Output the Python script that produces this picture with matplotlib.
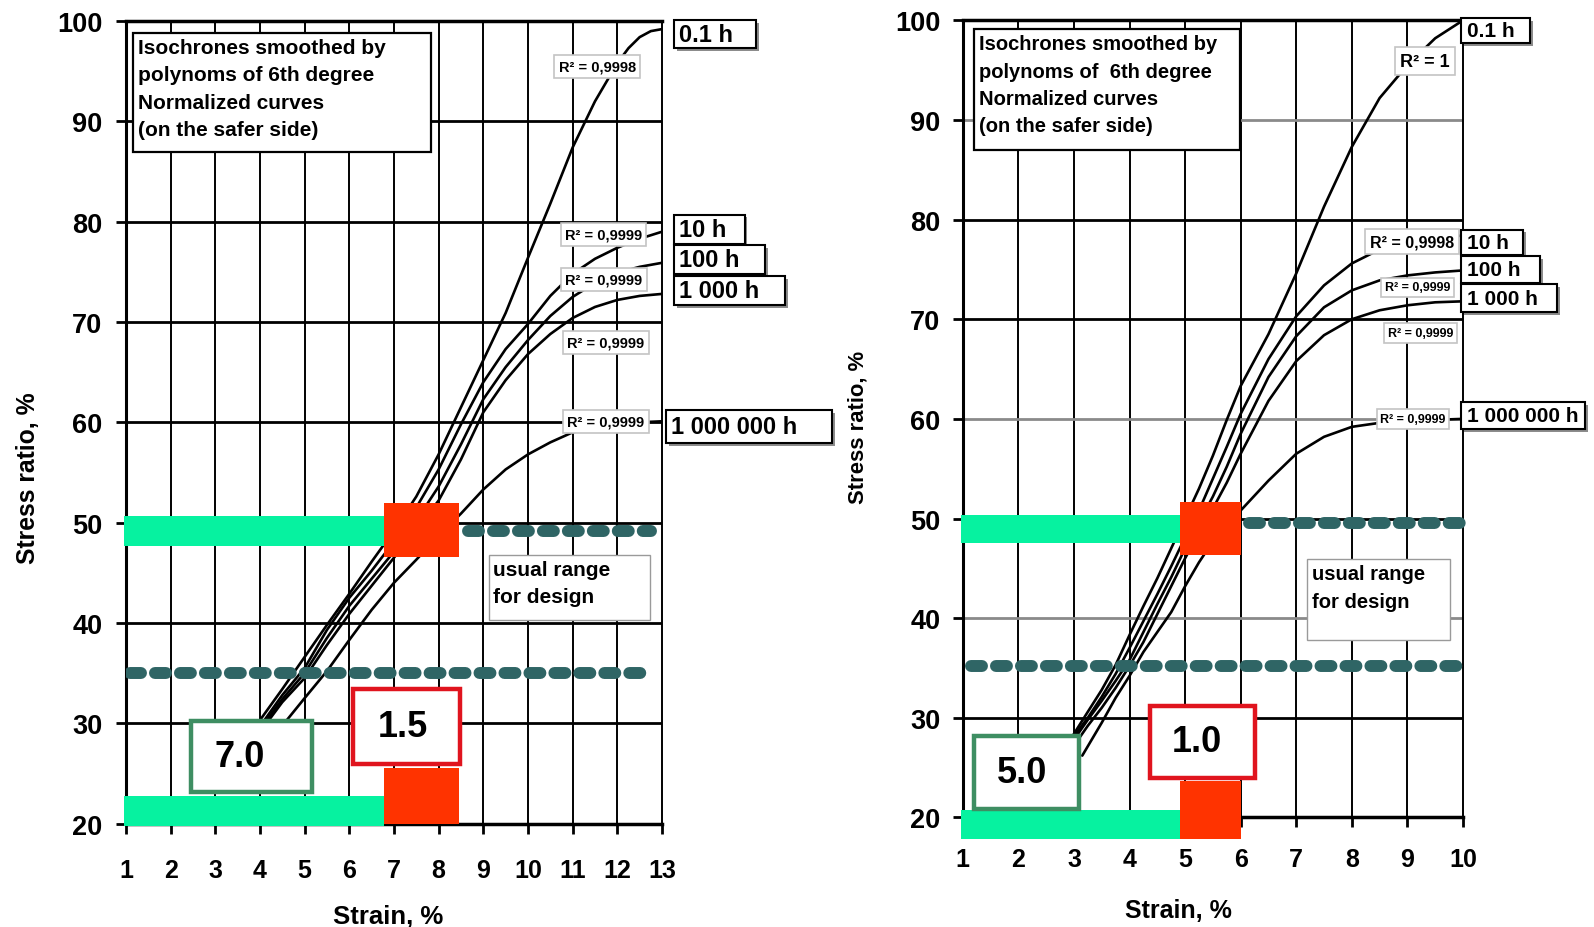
import numpy as np
import matplotlib.pyplot as plt
from matplotlib.patches import Rectangle
from matplotlib.transforms import offset_copy

plt.rcParams['font.family'] = ['Liberation Sans', 'DejaVu Sans']
plt.rcParams['font.weight'] = 'bold'

# isochrone names
time_labels = ['0.1 h', '10 h', '100 h', '1 000 h', '1 000 000 h']

# ---- left chart: strain 1..13 % ----
left_x_01h = [4.0, 4.5, 5.0, 5.5, 6.0, 6.5, 7.0, 7.5, 8.0, 8.5, 9.0, 9.5, 10.0, 10.5, 11.0, 11.5, 12.0, 12.25, 12.5, 12.75, 13.0]
left_y_01h = [30.3, 33.4, 36.6, 39.8, 42.9, 46.1, 49.2, 52.6, 56.8, 61.5, 66.2, 70.9, 76.4, 81.8, 87.4, 92.0, 95.8, 97.3, 98.4, 99.0, 99.2]
left_x_10h = [4.1, 4.5, 5.0, 5.5, 6.0, 6.5, 7.0, 7.5, 8.0, 8.5, 9.0, 9.5, 10.0, 10.5, 11.0, 11.5, 12.0, 12.5, 13.0]
left_y_10h = [30.3, 32.8, 35.5, 39.3, 42.5, 45.2, 48.1, 51.5, 55.3, 59.8, 64.0, 67.3, 69.8, 72.6, 74.8, 76.3, 77.4, 78.3, 79.0]
left_x_100h = [4.15, 4.5, 5.0, 5.5, 6.0, 6.5, 7.0, 7.5, 8.0, 8.5, 9.0, 9.5, 10.0, 10.5, 11.0, 11.5, 12.0, 12.5, 13.0]
left_y_100h = [30.3, 32.4, 35.0, 38.5, 41.7, 44.4, 47.1, 50.2, 53.6, 57.8, 62.3, 65.5, 68.2, 70.6, 72.5, 73.9, 74.9, 75.5, 75.9]
left_x_1000h = [4.2, 4.5, 5.0, 5.5, 6.0, 6.5, 7.0, 7.5, 8.0, 8.5, 9.0, 9.5, 10.0, 10.5, 11.0, 11.5, 12.0, 12.5, 13.0]
left_y_1000h = [30.3, 32.1, 34.5, 37.8, 40.9, 43.7, 46.5, 49.3, 52.2, 56.3, 61.0, 64.2, 66.8, 68.8, 70.4, 71.5, 72.2, 72.6, 72.8]
left_x_1e6h = [4.6, 5.0, 5.5, 6.0, 6.5, 7.0, 7.5, 8.0, 8.5, 9.0, 9.5, 10.0, 10.5, 11.0, 11.5, 12.0, 12.5, 13.0]
left_y_1e6h = [30.3, 32.5, 35.2, 38.3, 41.3, 44.0, 46.3, 48.7, 50.9, 53.3, 55.3, 56.8, 58.0, 59.0, 59.5, 59.8, 60.0, 60.1]
left_r2 = ['R² = 0,9998', 'R² = 0,9999', 'R² = 0,9999', 'R² = 0,9999', 'R² = 0,9999']
left_factors = ['7.0', '1.5']

# ---- right chart: strain 1..10 % ----
right_x_01h = [2.9, 3.25, 3.5, 3.75, 4.0, 4.25, 4.5, 4.75, 5.0, 5.25, 5.5, 5.75, 6.0, 6.5, 7.0, 7.5, 8.0, 8.5, 9.0, 9.5, 10.0]
right_y_01h = [27.5, 30.6, 32.8, 35.3, 38.3, 41.2, 44.0, 47.0, 50.0, 53.0, 56.3, 59.9, 63.3, 68.5, 74.6, 81.3, 87.3, 92.2, 95.5, 98.2, 100.0]
right_x_10h = [2.95, 3.25, 3.5, 3.75, 4.0, 4.25, 4.5, 4.75, 5.0, 5.25, 5.5, 5.75, 6.0, 6.5, 7.0, 7.5, 8.0, 8.5, 9.0, 9.5, 10.0]
right_y_10h = [27.8, 30.0, 32.1, 34.4, 37.0, 39.7, 42.4, 45.2, 48.1, 50.8, 54.0, 57.2, 60.5, 66.0, 70.3, 73.4, 75.6, 77.0, 77.8, 78.2, 78.4]
right_x_100h = [3.0, 3.25, 3.5, 3.75, 4.0, 4.25, 4.5, 4.75, 5.0, 5.25, 5.5, 5.75, 6.0, 6.5, 7.0, 7.5, 8.0, 8.5, 9.0, 9.5, 10.0]
right_y_100h = [27.8, 29.8, 31.7, 33.7, 35.8, 38.6, 41.4, 44.1, 47.0, 49.6, 52.2, 55.2, 58.5, 64.2, 68.3, 71.2, 72.9, 73.9, 74.4, 74.7, 74.9]
right_x_1000h = [3.05, 3.25, 3.5, 3.75, 4.0, 4.25, 4.5, 4.75, 5.0, 5.25, 5.5, 5.75, 6.0, 6.5, 7.0, 7.5, 8.0, 8.5, 9.0, 9.5, 10.0]
right_y_1000h = [27.6, 29.2, 31.0, 33.0, 35.2, 37.6, 40.4, 43.2, 46.0, 48.6, 51.0, 53.6, 56.5, 61.8, 65.8, 68.4, 70.0, 70.9, 71.4, 71.7, 71.8]
right_x_1e6h = [3.15, 3.5, 3.75, 4.0, 4.25, 4.5, 4.75, 5.0, 5.25, 5.5, 5.75, 6.0, 6.5, 7.0, 7.5, 8.0, 8.5, 9.0, 9.5, 10.0]
right_y_1e6h = [26.2, 29.5, 32.0, 34.2, 36.6, 38.6, 40.6, 43.2, 45.6, 47.7, 49.4, 50.8, 53.8, 56.5, 58.2, 59.2, 59.6, 59.8, 59.9, 60.0]
right_r2 = ['R² = 1', 'R² = 0,9998', 'R² = 0,9999', 'R² = 0,9999', 'R² = 0,9999']
right_factors = ['5.0', '1.0']

# design stress levels (%)
design_levels = [35, 49.3]

GREEN = '#06f2a0'
RED = '#ff3300'
TEAL = '#2f6565'
DOTS = (0, (0.92, 1.17))

fig = plt.figure(figsize=(15.94, 9.28), dpi=100)
axL = fig.add_axes([0.0790, 0.1115, 0.3363, 0.8647])
axR = fig.add_axes([0.6040, 0.1181, 0.3138, 0.8589])


def setup(ax, xmax, xpad, ypad, gray_rows=()):
    ax.set_xlim(1, xmax)
    ax.set_ylim(20, 100)
    ax.set_xticks(range(1, xmax + 1))
    ax.set_yticks(range(20, 101, 10))
    ax.tick_params(axis='x', direction='out', length=7, width=2, pad=xpad, labelsize=18)
    ax.tick_params(axis='y', direction='out', length=7, width=2, pad=ypad, labelsize=19.5)
    for lab in ax.get_xticklabels() + ax.get_yticklabels():
        lab.set_fontweight('bold')
    ax.spines['left'].set_linewidth(2.2)
    ax.spines['bottom'].set_linewidth(2.5)
    ax.spines['top'].set_linewidth(2.5)
    ax.spines['right'].set_linewidth(1.4)
    for xv in range(2, xmax):
        ax.axvline(xv, color='black', lw=1.4, zorder=0.5)
    for yv in range(30, 100, 10):
        c = '#8a8a8a' if yv in gray_rows else 'black'
        ax.axhline(yv, color=c, lw=2.0, zorder=0.5)


def box_text(ax, x0, x1, y0, y1, lines, fs, ec='black', lw=1.6, zorder=6):
    ax.add_patch(Rectangle((x0, y0), x1 - x0, y1 - y0, fc='white', ec=ec, lw=lw,
                           zorder=zorder, clip_on=False))
    ax.text(x0 + 0.1, y1 - 0.5, lines, ha='left', va='top', fontsize=fs,
            fontweight='bold', linespacing=1.55, zorder=zorder + 1, clip_on=False)


def label_box(ax, x0, x1, y0, y1, text, fs):
    sh = offset_copy(ax.transData, fig=fig, x=2, y=-2, units='points')
    ax.add_patch(Rectangle((x0, y0), x1 - x0, y1 - y0, fc='#8c8c8c', ec='none',
                           transform=sh, zorder=6, clip_on=False))
    ax.add_patch(Rectangle((x0, y0), x1 - x0, y1 - y0, fc='white', ec='black', lw=1.5,
                           zorder=7, clip_on=False))
    ax.text(x0 + 0.1, (y0 + y1) / 2, text, ha='left', va='center', fontsize=fs,
            fontweight='bold', zorder=8, clip_on=False)


def factor_box(ax, x0, x1, y0, y1, text, ec, tx):
    ax.add_patch(Rectangle((x0, y0), x1 - x0, y1 - y0, fc='white', ec=ec, lw=3.2,
                           zorder=6, clip_on=False))
    ax.text(tx, (y0 + y1) / 2, text, ha='center', va='center', fontsize=26,
            fontweight='bold', zorder=7)


# ---------------- left panel ----------------
setup(axL, 13, xpad=18, ypad=10)
lx = [left_x_01h, left_x_10h, left_x_100h, left_x_1000h, left_x_1e6h]
ly = [left_y_01h, left_y_10h, left_y_100h, left_y_1000h, left_y_1e6h]
for xs, ys in zip(lx, ly):
    axL.plot(xs, ys, color='black', lw=1.9, zorder=2, solid_capstyle='round')

# bands and design markers
axL.barh(49.2, 6.77 - 0.95, left=0.95, height=3.0, color=GREEN, zorder=4, clip_on=False)
axL.barh(49.3, 8.45 - 6.77, left=6.77, height=5.4, color=RED, zorder=4)
axL.barh(21.25, 6.77 - 0.95, left=0.95, height=2.9, color=GREEN, zorder=4, clip_on=False)
axL.barh(22.75, 8.45 - 6.77, left=6.77, height=5.5, color=RED, zorder=4)
axL.plot([1.1, 12.75], [design_levels[0]] * 2, color=TEAL, lw=8.6,
         linestyle=DOTS, dash_capstyle='round', zorder=4.5)
axL.plot([8.65, 12.75], [design_levels[1] - 0.1] * 2, color=TEAL, lw=8.6,
         linestyle=DOTS, dash_capstyle='round', zorder=4.5)

box_text(axL, 1.16, 7.83, 86.9, 98.8,
         'Isochrones smoothed by\npolynoms of 6th degree\nNormalized curves\n(on the safer side)', 15)
box_text(axL, 9.12, 12.74, 40.3, 46.8, 'usual range\nfor design', 15, ec='#9a9a9a', lw=1.0, zorder=3)

factor_box(axL, 2.46, 5.17, 23.1, 30.2, left_factors[0], '#3e8e62', 3.55)
factor_box(axL, 6.08, 8.48, 25.9, 33.4, left_factors[1], '#e0141e', 7.2)

for (cx, cy), s in zip([(11.55, 95.5), (11.69, 78.7), (11.7, 74.2), (11.74, 67.95), (11.74, 60.1)], left_r2):
    axL.text(cx, cy, s, ha='center', va='center', fontsize=10.5, fontweight='bold', zorder=5,
             bbox=dict(boxstyle='square,pad=0.3', fc='white', ec='#c4c4c4', lw=1.2))

for (x0, x1, y0, y1), s in zip([(13.28, 15.1, 97.3, 100.1), (13.28, 14.85, 77.8, 80.7),
                                (13.28, 15.3, 74.8, 77.7), (13.28, 15.75, 71.7, 74.6),
                                (13.1, 16.8, 57.9, 61.2)], time_labels):
    label_box(axL, x0, x1, y0, y1, s, 17)

axL.text(-0.183, 0.431, 'Stress ratio, %', transform=axL.transAxes, rotation=90,
         ha='center', va='center', fontsize=17.8, fontweight='bold')
axL.text(0.49, -0.115, 'Strain, %', transform=axL.transAxes,
         ha='center', va='center', fontsize=18.5, fontweight='bold')

# ---------------- right panel ----------------
setup(axR, 10, xpad=14, ypad=9, gray_rows=(40, 60, 90))
rx = [right_x_01h, right_x_10h, right_x_100h, right_x_1000h, right_x_1e6h]
ry = [right_y_01h, right_y_10h, right_y_100h, right_y_1000h, right_y_1e6h]
for xs, ys in zip(rx, ry):
    axR.plot(xs, ys, color='black', lw=1.9, zorder=2, solid_capstyle='round')

axR.barh(48.95, 4.91 - 0.97, left=0.97, height=2.9, color=GREEN, zorder=4, clip_on=False)
axR.barh(49.0, 6.0 - 4.91, left=4.91, height=5.4, color=RED, zorder=4)
axR.barh(19.25, 4.91 - 0.97, left=0.97, height=2.9, color=GREEN, zorder=4, clip_on=False)
axR.barh(20.75, 6.0 - 4.91, left=4.91, height=5.9, color=RED, zorder=4, clip_on=False)
axR.plot([1.15, 10.05], [design_levels[0] + 0.2] * 2, color=TEAL, lw=8.6,
         linestyle=DOTS, dash_capstyle='round', zorder=4.5, clip_on=False)
axR.plot([6.15, 9.95], [design_levels[1] + 0.2] * 2, color=TEAL, lw=8.6,
         linestyle=DOTS, dash_capstyle='round', zorder=4.5, clip_on=False)

box_text(axR, 1.2, 5.99, 87.0, 99.1,
         'Isochrones smoothed by\npolynoms of  6th degree\nNormalized curves\n(on the safer side)', 14.5)
box_text(axR, 7.19, 9.77, 37.8, 45.9, 'usual range\nfor design', 14.5, ec='#9a9a9a', lw=1.0, zorder=3)

factor_box(axR, 1.2, 3.09, 20.8, 28.2, right_factors[0], '#3e8e62', 2.07)
factor_box(axR, 4.37, 6.26, 24.0, 31.2, right_factors[1], '#e0141e', 5.22)

for (cx, cy), s, fs in zip([(9.32, 95.9), (9.08, 77.8), (9.18, 73.2), (9.24, 68.6), (9.1, 60.0)],
                           right_r2, [13, 11.5, 9, 9, 9]):
    axR.text(cx, cy, s, ha='center', va='center', fontsize=fs, fontweight='bold', zorder=5,
             bbox=dict(boxstyle='square,pad=0.3', fc='white', ec='#c4c4c4', lw=1.2))

for (x0, x1, y0, y1), s in zip([(9.97, 11.21, 97.7, 100.2), (9.97, 11.08, 76.4, 79.0),
                                (9.97, 11.39, 73.6, 76.3), (9.97, 11.7, 70.7, 73.5),
                                (9.97, 12.2, 59.0, 61.7)], time_labels):
    label_box(axR, x0, x1, y0, y1, s, 15)

axR.text(-0.21, 0.491, 'Stress ratio, %', transform=axR.transAxes, rotation=90,
         ha='center', va='center', fontsize=15.8, fontweight='bold')
axR.text(0.432, -0.116, 'Strain, %', transform=axR.transAxes,
         ha='center', va='center', fontsize=18, fontweight='bold')

fig.savefig('out.png', dpi=100)
